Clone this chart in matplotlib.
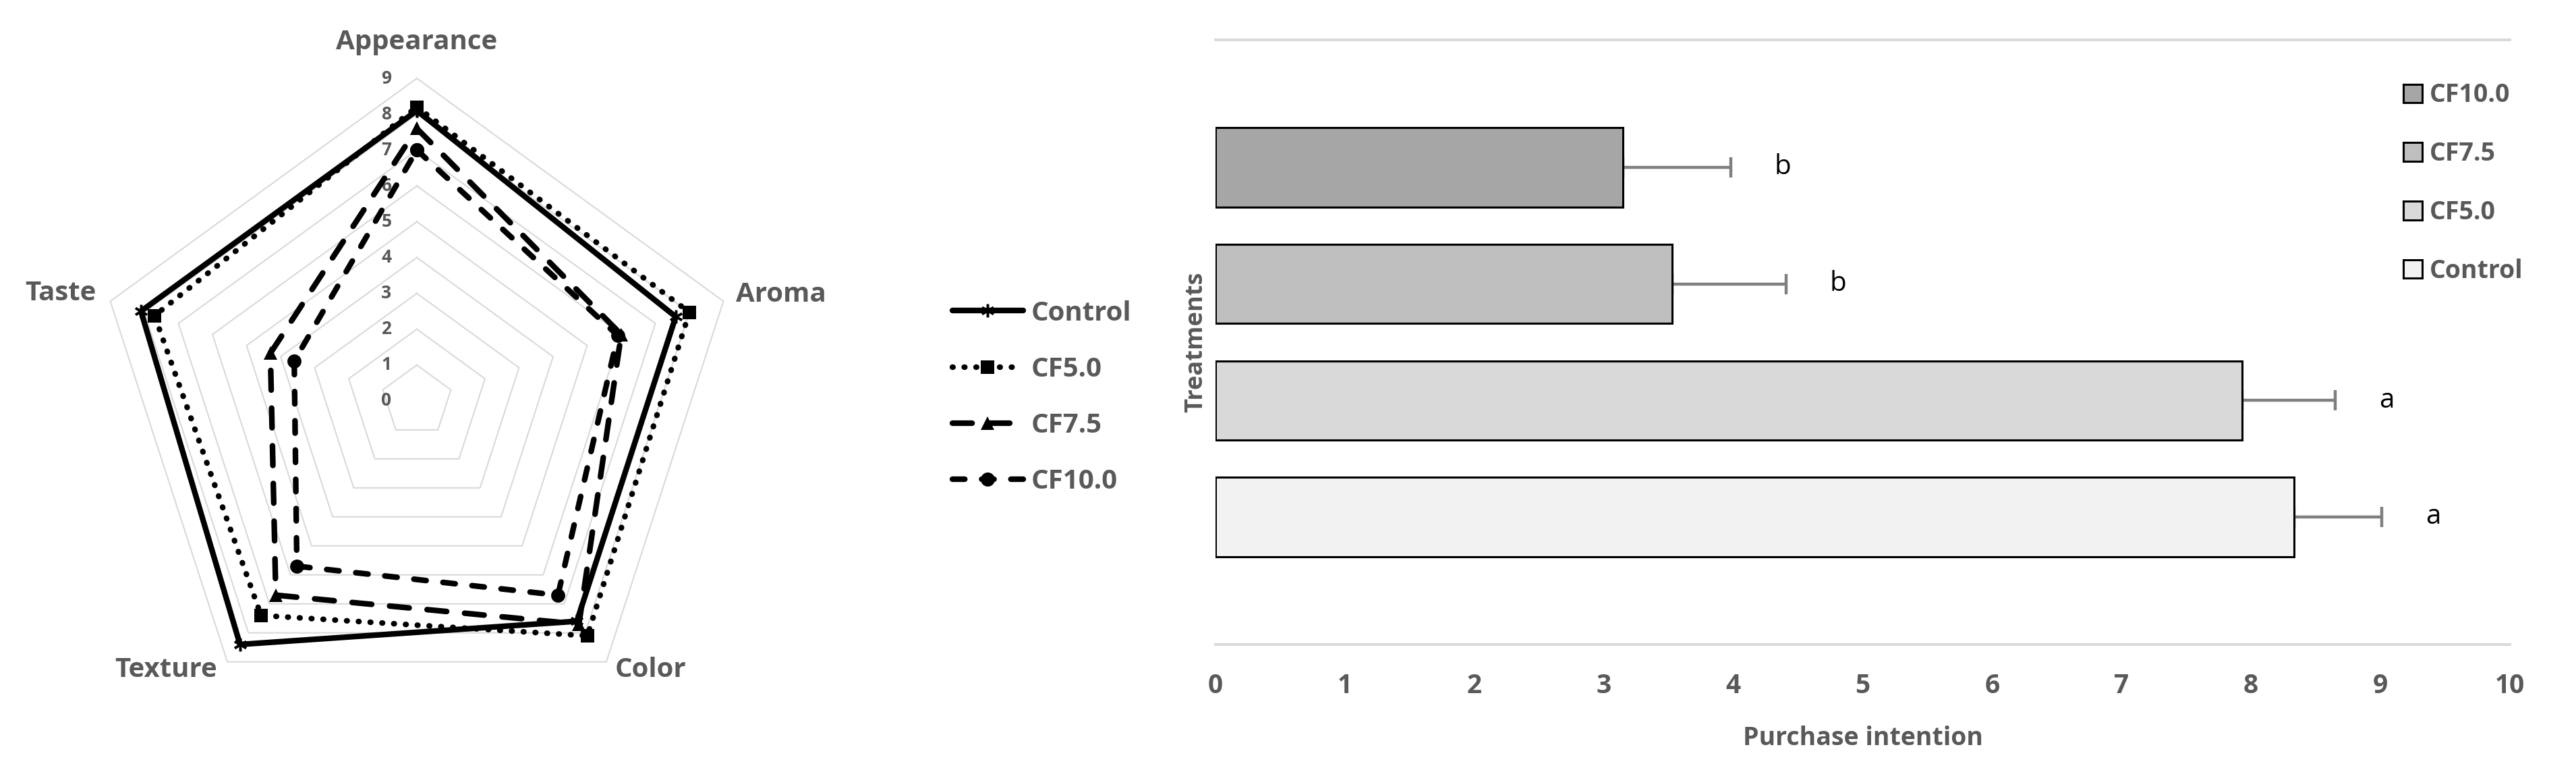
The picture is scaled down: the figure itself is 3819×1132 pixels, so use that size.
import numpy as np
import matplotlib.pyplot as plt
import matplotlib.patches as mpatches

plt.rcParams['font.family'] = ['Open Sans', 'DejaVu Sans']

# ── Data ─────────────────────────────────────────────────────────────────────
ATTRIBUTES = ["Appearance", "Aroma", "Color", "Texture", "Taste"]
TREATMENTS = ["Control", "CF5.0", "CF7.5", "CF10.0"]

CONTROL = [8.1, 7.6, 7.6, 8.4, 8.1]
CF5 = [8.2, 8.0, 8.1, 7.4, 7.7]
CF75 = [7.6, 6.0, 7.7, 6.7, 4.3]
CF10 = [7.0, 5.9, 6.7, 5.7, 3.6]
RING_LEVELS = list(range(10))

PURCHASE = [8.33, 7.93, 3.53, 3.15]          # Control, CF5.0, CF7.5, CF10.0
PURCHASE_ERR = [0.68, 0.72, 0.88, 0.83]
LETTERS = ["a", "a", "b", "b"]
X_TICKS = list(range(11))

GRAY_TXT = "#595959"
GRID = "#d9d9d9"
BAR_COLORS = ["#f2f2f2", "#d9d9d9", "#bfbfbf", "#a6a6a6"]

W, H = 3819, 1132
fig = plt.figure(figsize=(W / 100, H / 100), dpi=100)

# ── Radar chart ──────────────────────────────────────────────────────────────
ax1 = fig.add_axes([87 / W, 7 / H, 1062 / W, 1062 / H])
ax1.set_xlim(-10, 10)
ax1.set_ylim(-10, 10)
ax1.set_aspect("equal")
ax1.axis("off")

theta = np.deg2rad(90 - 72 * np.arange(len(ATTRIBUTES)))
theta_c = np.append(theta, theta[0])

for lv in RING_LEVELS[1:]:
    ax1.plot(lv * np.cos(theta_c), lv * np.sin(theta_c), color=GRID, lw=1.5, zorder=1)
for lv in RING_LEVELS:
    ax1.text(-0.85, lv, str(lv), ha="center", va="center", fontsize=19,
             fontweight="bold", color=GRAY_TXT, zorder=2)

label_pos = [(0.0, 10.0), (10.17, 2.96), (6.52, -7.5), (-7.0, -7.5), (-9.94, 3.0)]
for name, (lx, ly) in zip(ATTRIBUTES, label_pos):
    ax1.text(lx, ly, name, ha="center", va="center", fontsize=29,
             fontweight="bold", color=GRAY_TXT)

styles = [
    dict(ls="-", marker=(6, 2, 0), ms=14, mew=2.5),
    dict(ls=(0, (0.1, 2.0)), marker="s", ms=15, mew=0),
    dict(ls=(0, (3.5, 3.2)), marker="^", ms=15, mew=0),
    dict(ls=(0, (2.2, 3.0)), marker="o", ms=15, mew=0),
]
handles = []
for vals, name, st in zip([CONTROL, CF5, CF75, CF10], TREATMENTS, styles):
    r = np.append(vals, vals[0])
    ln, = ax1.plot(r * np.cos(theta_c), r * np.sin(theta_c), color="black", lw=6,
                   linestyle=st["ls"], marker=st["marker"], markersize=st["ms"],
                   markeredgewidth=st["mew"], markeredgecolor="black",
                   dash_capstyle="round", solid_capstyle="round",
                   label=name, zorder=3, clip_on=False)
    handles.append(ln)

ax1.legend(handles=handles, loc="center left",
           bbox_to_anchor=(1412 / W, 1 - 589 / H), bbox_transform=fig.transFigure,
           frameon=False, handlelength=2.6, handletextpad=0.3,
           labelspacing=1.1, borderpad=0, borderaxespad=0, labelcolor=GRAY_TXT,
           prop=dict(weight="bold", size=29))

# ── Bar chart ────────────────────────────────────────────────────────────────
ax2 = fig.add_axes([1802 / W, 177 / H, 1919 / W, 896 / H])
y = np.arange(len(TREATMENTS))
ax2.barh(y, PURCHASE, height=0.68, color=BAR_COLORS, edgecolor="black",
         linewidth=2.2, zorder=3)
ax2.errorbar(PURCHASE, y, xerr=[np.zeros(len(y)), PURCHASE_ERR], fmt="none",
             ecolor="#7f7f7f", elinewidth=3.2, capsize=11, capthick=3.2, zorder=2)
for yi, p, e, letter in zip(y, PURCHASE, PURCHASE_ERR, LETTERS):
    ax2.text(p + e + 0.4, yi, letter, ha="center", va="center", fontsize=29, color="black")

ax2.set_xlim(0, 10)
ax2.set_ylim(-1.094, 4.094)
ax2.set_yticks([])
ax2.set_xticks(X_TICKS)
ax2.tick_params(axis="x", length=0, pad=30, labelsize=28, labelcolor=GRAY_TXT)
for lbl in ax2.get_xticklabels():
    lbl.set_fontweight("bold")

for s in ["left", "right"]:
    ax2.spines[s].set_visible(False)
for s in ["top", "bottom"]:
    ax2.spines[s].set_color(GRID)
    ax2.spines[s].set_linewidth(2.8)

ax2.set_ylabel("Treatments", fontsize=26, fontweight="bold", color=GRAY_TXT, labelpad=8)
ax2.set_xlabel("Purchase intention", fontsize=27, fontweight="bold", color=GRAY_TXT,
               labelpad=28)

bar_handles = [mpatches.Patch(facecolor=c, edgecolor="black", linewidth=2.2, label=n)
               for n, c in zip(TREATMENTS, BAR_COLORS)][::-1]
ax2.legend(handles=bar_handles, loc="center left",
           bbox_to_anchor=(3563 / W, 1 - 271.5 / H), bbox_transform=fig.transFigure,
           frameon=False, handlelength=0.75, handleheight=0.75, handletextpad=0.3,
           labelspacing=1.3, borderpad=0, borderaxespad=0, labelcolor=GRAY_TXT,
           prop=dict(weight="bold", size=27))

fig.savefig("out.png", dpi=100, facecolor="white")
